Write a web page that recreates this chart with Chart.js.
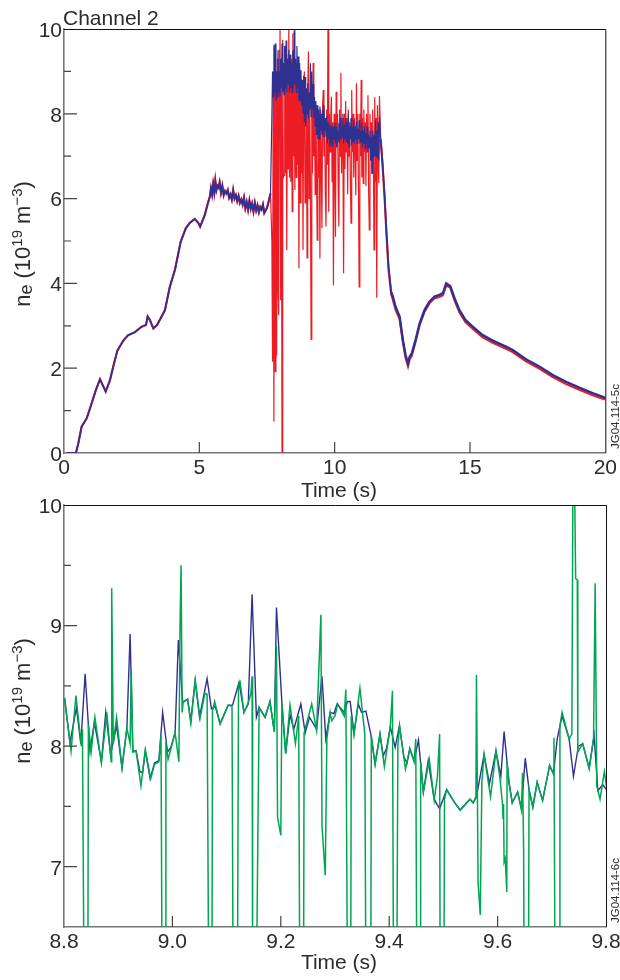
<!DOCTYPE html>
<html>
<head>
<meta charset="utf-8">
<title>Channel 2</title>
<script src="https://cdn.jsdelivr.net/npm/chart.js@4"></script>
<style>
  html, body { margin: 0; background: #fff; overflow: hidden; height: 100%; }
  canvas { position: absolute; left: 0; }
  #top { top: 0; }
  #bottom { top: 480px; }
</style>
</head>
<body>
<canvas id="top" width="620" height="503"></canvas>
<canvas id="bottom" width="640" height="495"></canvas>
<script>
// upper panel: rise up to the event
const earlyTime = [0.10,0.44,0.53,0.65,0.84,0.98,1.18,1.33,1.43,1.54,1.70,1.82,1.97,2.19,2.37,2.62,2.87,3.03,3.09,3.17,3.30,3.44,3.73,3.91,4.10,4.31,4.50,4.65,4.83,4.96,5.03,5.20,5.32,5.39,5.43,5.47,5.51,5.55,5.59,5.63,5.67,5.71,5.75,5.80,5.85,5.90,5.95,6.00,6.05,6.10,6.15,6.20,6.25,6.30,6.35,6.40,6.45,6.50,6.55,6.60,6.65,6.70,6.75,6.80,6.85,6.90,6.95,7.00,7.05,7.10,7.15,7.20,7.25,7.30,7.35,7.40,7.45,7.50,7.55,7.63];
const earlyValues = [0,0,0.23,0.62,0.82,1.09,1.49,1.74,1.60,1.45,1.72,2.04,2.41,2.65,2.78,2.85,2.98,3.02,3.22,3.14,2.94,3.02,3.37,3.92,4.32,4.98,5.30,5.43,5.52,5.43,5.34,5.61,5.90,6.05,6.24,6.10,6.34,6.15,6.42,6.20,6.30,6.26,6.38,6.14,6.30,6.08,6.18,6.12,6.20,6.02,6.10,5.98,6.20,6.00,6.08,5.94,6.06,5.90,5.98,5.86,6.02,5.78,5.92,5.74,5.95,5.76,5.88,5.70,5.90,5.72,5.84,5.68,5.80,5.74,5.86,5.66,5.72,5.78,5.90,6.12];

// upper panel: the noisy part, 7.68 s to 11.66 s
const denseTime = [7.68,7.705,7.73,7.755,7.78,7.805,7.83,7.855,7.88,7.905,
  7.93,7.955,7.98,8.005,8.03,8.055,8.08,8.105,8.13,8.155,
  8.18,8.205,8.23,8.255,8.28,8.305,8.33,8.355,8.38,8.405,
  8.43,8.455,8.48,8.505,8.53,8.555,8.58,8.605,8.63,8.655,
  8.68,8.705,8.73,8.755,8.78,8.805,8.83,8.855,8.88,8.905,
  8.93,8.955,8.98,9.005,9.03,9.055,9.08,9.105,9.13,9.155,
  9.18,9.205,9.23,9.255,9.28,9.305,9.33,9.355,9.38,9.405,
  9.43,9.455,9.48,9.505,9.53,9.555,9.58,9.605,9.63,9.655,
  9.68,9.705,9.73,9.755,9.78,9.805,9.83,9.855,9.88,9.905,
  9.93,9.955,9.98,10.005,10.03,10.055,10.08,10.105,10.13,10.155,
  10.18,10.205,10.23,10.255,10.28,10.305,10.33,10.355,10.38,10.405,
  10.43,10.455,10.48,10.505,10.53,10.555,10.58,10.605,10.63,10.655,
  10.68,10.705,10.73,10.755,10.78,10.805,10.83,10.855,10.88,10.905,
  10.93,10.955,10.98,11.005,11.03,11.055,11.08,11.105,11.13,11.155,
  11.18,11.205,11.23,11.255,11.28,11.305,11.33,11.355,11.38,11.405,
  11.43,11.455,11.48,11.505,11.53,11.555,11.58,11.605,11.63,11.655];
const denseRed = [5.0,2.15,9.0,0.74,9.1,1.92,9.0,2.3,9.3,3.8,
  3.25,9.5,10.5,3.6,9.3,0,9.74,6.5,6.55,9.6,
  6.6,9.4,4.79,9.3,6.7,10.5,6.5,9.2,6.4,9.3,
  5.69,9.9,7.0,9.1,6.2,9.0,6.5,8.9,6.8,8.8,
  4.36,8.7,5.9,8.6,6.6,8.5,4.79,8.4,9.0,5.9,
  6.4,8.3,4.6,8.4,9.47,6.0,8.2,6.3,2.68,8.5,
  6.6,9.2,7.0,8.0,6.1,8.2,6.8,5.02,8.1,6.5,
  8.0,4.59,8.1,6.9,5.3,8.2,8.56,7.0,7.9,6.1,
  5.34,8.1,6.8,10.5,5.69,8.0,7.1,7.9,8.4,6.4,
  7.8,3.95,8.0,6.9,5.1,8.52,7.2,8.0,6.3,5.34,
  8.1,7.0,8.97,6.6,7.9,7.1,4.24,8.0,6.7,8.3,
  7.1,7.9,6.1,8.1,7.0,7.8,6.5,5.42,8.56,7.1,
  8.0,6.5,7.9,7.2,6.08,8.72,6.9,8.0,6.2,3.92,
  8.0,7.0,8.8,6.5,7.9,6.36,8.1,7.1,7.8,6.3,
  8.0,7.1,8.44,6.2,5.26,8.0,6.9,7.8,6.6,8.1,
  7.0,4.79,8.39,6.4,7.9,3.66,8.2,7.0,6.36,8.42];
const denseBlue = [7.9,9.0,8.4,9.62,8.5,9.66,8.3,9.0,8.4,9.5,
  8.5,9.0,8.4,9.3,8.6,9.66,8.5,9.2,8.45,9.6,
  8.6,9.73,8.5,9.3,8.7,9.5,8.5,9.4,8.6,9.2,
  8.5,9.5,8.6,9.97,8.7,9.3,8.5,9.6,8.6,9.35,
  8.3,9.2,8.3,9.03,8.2,8.8,8.0,8.9,7.8,8.87,
  7.7,8.6,8.0,8.72,7.9,8.5,8.1,9.19,7.93,9.0,
  8.1,8.7,7.9,8.4,7.7,8.3,7.5,8.2,7.4,8.1,
  7.4,8.17,7.6,8.0,7.5,8.1,7.46,8.2,7.6,7.9,
  7.46,7.95,7.3,7.8,7.4,7.7,7.25,7.75,7.3,7.7,
  7.22,7.7,7.4,7.78,7.3,7.7,7.22,7.6,7.35,7.78,
  7.3,7.9,7.4,7.7,7.46,8.0,7.3,7.75,7.4,7.9,
  7.35,7.8,7.3,8.0,7.22,7.7,7.4,7.9,7.25,7.7,
  7.35,7.85,7.3,7.7,7.4,7.8,7.3,7.65,7.4,7.85,
  7.3,7.6,7.35,7.77,7.2,7.6,7.3,7.7,7.18,7.55,
  7.3,7.7,7.1,7.5,7.2,7.6,6.9,7.45,6.6,7.6,
  6.95,7.5,6.99,7.85,7.0,7.6,6.95,7.8,6.9,7.93];

// upper panel: decay after the event
const lateTime = [11.70,11.76,11.84,11.91,11.99,12.09,12.15,12.25,12.40,12.52,12.62,12.71,12.77,12.85,12.99,13.14,13.32,13.50,13.69,13.87,14.00,14.12,14.27,14.43,14.61,14.83,15.10,15.47,15.84,16.33,16.58,17.07,17.56,18.06,18.55,19.04,19.53,19.96,20.00];
const lateBlue = [7.4,6.91,6.12,5.26,4.39,3.80,3.69,3.45,3.22,2.67,2.31,2.11,2.27,2.35,2.67,3.06,3.37,3.57,3.69,3.73,3.77,4.00,3.94,3.65,3.37,3.14,2.98,2.78,2.65,2.51,2.43,2.21,2.04,1.84,1.68,1.54,1.41,1.31,1.30];
const lateRed = [7.4,6.89,6.08,5.22,4.34,3.74,3.62,3.38,3.16,2.62,2.25,2.05,2.21,2.30,2.63,3.02,3.33,3.53,3.65,3.68,3.72,3.95,3.90,3.60,3.32,3.09,2.93,2.73,2.60,2.46,2.38,2.16,1.99,1.79,1.63,1.49,1.36,1.27,1.26];

// lower panel: zoom on 8.8 s to 9.8 s
const zoomBlueTime = [8.801,8.811,8.823,8.831,8.839,8.848,8.856,8.869,8.877,8.886,8.897,8.907,8.916,8.922,8.927,8.933,8.940,8.945,8.950,8.959,8.967,8.975,8.982,8.991,8.997,9.005,9.011,9.019,9.028,9.034,9.042,9.050,9.064,9.072,9.079,9.088,9.103,9.111,9.123,9.132,9.140,9.147,9.155,9.160,9.171,9.180,9.188,9.192,9.202,9.209,9.217,9.224,9.237,9.245,9.253,9.266,9.276,9.283,9.291,9.298,9.304,9.317,9.323,9.328,9.335,9.343,9.349,9.357,9.366,9.374,9.383,9.389,9.395,9.402,9.411,9.419,9.427,9.433,9.438,9.446,9.454,9.463,9.472,9.483,9.493,9.506,9.521,9.531,9.549,9.555,9.561,9.575,9.585,9.597,9.606,9.612,9.621,9.627,9.637,9.644,9.651,9.658,9.665,9.673,9.683,9.696,9.703,9.710,9.719,9.732,9.740,9.749,9.757,9.769,9.778,9.785,9.794,9.801];
const zoomBlue = [8.40,8.03,8.32,8.02,8.60,7.96,8.20,7.87,8.28,7.93,8.17,7.82,8.15,8.93,7.96,7.96,7.79,7.78,7.96,7.73,7.86,7.88,8.28,7.95,7.99,8.11,8.88,8.36,8.39,8.21,8.54,8.24,8.56,8.31,8.33,8.19,8.34,8.34,8.53,8.28,8.35,9.26,8.24,8.32,8.24,8.37,8.12,9.15,8.36,7.94,8.26,8.14,8.35,8.11,8.24,8.14,8.58,8.06,8.28,8.27,8.35,8.28,8.37,8.37,8.11,8.35,8.28,8.29,8.10,7.85,8.10,7.92,7.98,8.16,7.99,8.17,7.91,7.86,7.98,7.88,8.05,7.62,7.88,7.56,7.48,7.64,7.53,7.47,7.56,7.53,7.58,7.93,7.69,7.96,7.75,8.12,7.70,7.53,7.62,7.48,7.90,7.64,7.50,7.70,7.55,7.84,7.77,8.06,8.25,8.06,7.75,8.00,8.02,7.82,8.09,7.63,7.68,7.64];
const zoomGreenTime = [8.801,8.813,8.822,8.832,8.834,8.837,8.844,8.845,8.850,8.857,8.869,8.879,8.887,8.888,8.891,8.897,8.907,8.916,8.922,8.924,8.927,8.933,8.942,8.950,8.960,8.967,8.975,8.979,8.981,8.987,8.988,8.992,9.005,9.012,9.014,9.016,9.018,9.020,9.028,9.034,9.042,9.051,9.060,9.064,9.067,9.073,9.074,9.078,9.088,9.103,9.110,9.112,9.120,9.122,9.125,9.132,9.140,9.145,9.147,9.148,9.155,9.160,9.171,9.180,9.188,9.192,9.194,9.200,9.202,9.209,9.217,9.227,9.233,9.235,9.242,9.243,9.257,9.266,9.274,9.276,9.282,9.285,9.291,9.294,9.300,9.305,9.317,9.320,9.323,9.329,9.330,9.335,9.346,9.355,9.357,9.366,9.367,9.374,9.383,9.391,9.402,9.406,9.408,9.414,9.416,9.419,9.430,9.438,9.446,9.449,9.451,9.457,9.458,9.463,9.474,9.483,9.489,9.493,9.494,9.501,9.502,9.506,9.521,9.531,9.549,9.555,9.560,9.561,9.564,9.568,9.571,9.575,9.587,9.597,9.604,9.609,9.610,9.611,9.612,9.614,9.617,9.6175,9.621,9.627,9.637,9.644,9.646,9.648,9.649,9.657,9.658,9.665,9.673,9.683,9.696,9.703,9.704,9.706,9.714,9.715,9.719,9.732,9.737,9.739,9.742,9.744,9.747,9.748,9.757,9.769,9.777,9.780,9.783,9.789,9.797,9.803];
const zoomGreen = [8.40,7.96,8.42,8.00,8.14,6.0,6.0,8.18,7.95,8.24,7.86,8.28,7.87,9.31,8.02,8.24,7.82,8.15,8.02,8.64,7.95,7.96,7.67,7.97,7.73,7.85,7.87,8.09,6.0,6.0,8.03,7.89,8.11,7.87,8.97,9.50,8.28,8.37,8.39,8.19,8.55,8.23,8.44,8.43,6.0,6.0,8.29,8.37,8.18,8.34,8.33,6.0,6.0,8.50,8.53,8.28,8.36,8.44,8.58,6.0,6.0,8.32,8.24,8.37,8.12,8.83,7.41,7.26,8.36,7.94,8.34,8.02,8.25,6.0,6.0,8.11,8.35,8.13,9.09,7.34,6.93,8.06,8.28,8.21,8.25,8.35,8.25,8.47,6.0,6.0,8.25,8.09,8.48,8.10,6.0,6.0,8.09,7.85,8.10,7.83,8.16,8.46,6.0,6.0,8.00,8.17,7.81,7.98,7.87,8.06,6.0,6.0,7.87,7.62,7.89,7.55,7.75,8.10,6.0,6.0,7.56,7.64,7.53,7.47,7.56,7.53,7.58,8.59,6.87,6.60,7.70,7.93,7.58,7.96,7.75,7.52,7.40,7.52,7.04,7.07,6.79,7.87,7.70,7.53,7.62,7.47,7.78,7.15,6.0,6.0,7.64,7.49,7.70,7.55,7.84,7.77,8.07,6.0,6.0,8.17,8.28,8.06,8.10,10.2,10.2,9.39,9.38,7.95,8.02,7.81,8.06,9.35,7.67,7.56,7.79,7.60];

// axis ticks
const topXTicks = [0, 5, 10, 15, 20];
const topYTicks = [0, 2, 4, 6, 8, 10];
const topYMinor = [1, 3, 5, 7, 9];
const zoomXTicks = [8.8, 9.0, 9.2, 9.4, 9.6, 9.8];
const zoomYTicks = [7, 8, 9, 10];
const zoomYMinor = [7.5, 8.5, 9.5];

const FONT = '"Liberation Sans", Arial, sans-serif';
const INK = '#2b2b2b';
const RED = '#ed1c24';
const BLUE = '#2e3192';
const GREEN = '#00a651';

function pts(xs, ys) {
  return xs.map((x, i) => ({ x: x, y: ys[i] }));
}

// inward ticks, the black top/right frame, and the texts canvas scales can't do
function panelPlugin(cfg) {
  return {
    id: 'panel',
    afterDraw(chart) {
      const c = chart.ctx, a = chart.chartArea;
      const xs = chart.scales.x, ys = chart.scales.y;
      c.save();
      c.strokeStyle = '#111';
      c.lineWidth = 1;
      c.beginPath();
      c.moveTo(a.left, a.top + 0.5); c.lineTo(a.right + 0.5, a.top + 0.5);
      c.lineTo(a.right + 0.5, a.bottom);
      c.stroke();

      c.strokeStyle = '#444';
      c.lineWidth = 1.2;
      c.beginPath();
      cfg.xTicks.slice(1, -1).forEach(v => {
        const p = xs.getPixelForValue(v);
        c.moveTo(p, a.bottom); c.lineTo(p, a.bottom - 11);
      });
      cfg.yTicks.forEach(v => {
        if (v === ys.max || v === ys.min) return;
        const p = ys.getPixelForValue(v);
        c.moveTo(a.left, p); c.lineTo(a.left + 13, p);
      });
      cfg.yMinor.forEach(v => {
        const p = ys.getPixelForValue(v);
        c.moveTo(a.left, p); c.lineTo(a.left + 7, p);
      });
      c.stroke();

      // x title sits a little right of the axis centre in the original
      c.fillStyle = INK;
      c.font = '21px ' + FONT;
      c.textAlign = 'center';
      c.fillText('Time (s)', 339, cfg.xTitleY);
      c.textAlign = 'left';

      // y title with subscript and superscripts
      c.translate(cfg.titleX, cfg.titleY);
      c.rotate(-Math.PI / 2);
      c.textBaseline = 'alphabetic';
      const runs = [['n', 22, 0], ['e', 18, 2], [' (10', 22, 0], ['19', 15, -8], [' m', 22, 0], ['\u22123', 15, -8], [')', 22, 0]];
      let w = 0;
      runs.forEach(r => { c.font = r[1] + 'px ' + FONT; w += c.measureText(r[0]).width; });
      let pos = -w / 2;
      runs.forEach(r => {
        c.font = r[1] + 'px ' + FONT;
        c.fillText(r[0], pos, r[2]);
        pos += c.measureText(r[0]).width;
      });
      c.restore();

      // job code along the right edge
      c.save();
      c.translate(620 - 1, a.bottom - 4);
      c.rotate(-Math.PI / 2);
      c.font = '11.5px ' + FONT;
      c.fillStyle = INK;
      c.fillText(cfg.code, 0, 0);
      c.restore();

      if (cfg.heading) {
        c.save();
        c.font = '21px ' + FONT;
        c.fillStyle = INK;
        c.fillText(cfg.heading, 63, 25);
        c.restore();
      }
    }
  };
}

function axis(min, max, ticks, fmt, pad, labelOffset, extra) {
  return Object.assign({
    type: 'linear',
    min: min,
    max: max,
    afterBuildTicks: s => { s.ticks = ticks.map(v => ({ value: v })); },
    grid: { drawOnChartArea: false, drawTicks: false },
    border: { color: '#777', width: 1.6 },
    ticks: {
      color: INK,
      font: { family: FONT, size: 21 },
      padding: pad,
      labelOffset: labelOffset,
      autoSkip: false,
      maxRotation: 0,
      callback: fmt
    }
  }, extra);
}

new Chart(document.querySelector('#top').getContext('2d'), {
  type: 'line',
  data: {
    datasets: [
      {
        order: 2,
        data: pts(earlyTime.concat(denseTime, lateTime), earlyValues.concat(denseRed, lateRed)),
        borderColor: RED, borderWidth: 1.5, pointRadius: 0, tension: 0,
        segment: { borderWidth: s => (s.p0.parsed.x > 7.6 && s.p0.parsed.x < 11.7 ? 1.2 : 2.2) }
      },
      {
        order: 1,
        data: pts(earlyTime.concat(denseTime, lateTime), earlyValues.concat(denseBlue, lateBlue)),
        borderColor: BLUE, borderWidth: 1.5, pointRadius: 0, tension: 0,
        segment: { borderWidth: s => (s.p0.parsed.x > 7.6 && s.p0.parsed.x < 11.7 ? 1.2 : (s.p0.parsed.x > 12 ? 2.4 : 1.7)) }
      }
    ]
  },
  options: {
    responsive: false,
    animation: false,
    devicePixelRatio: 1,
    layout: { padding: { top: 29, right: 14, left: 0, bottom: 0 } },
    plugins: { legend: { display: false }, tooltip: { enabled: false } },
    scales: {
      x: axis(0, 20, topXTicks, v => String(v), 3, 0, { afterFit: s => { s.height = 50; } }),
      y: axis(0, 10, topYTicks, v => String(v), 2, 2, { afterFit: s => { s.width = 64; } })
    }
  },
  plugins: [panelPlugin({ xTicks: topXTicks, yTicks: topYTicks, yMinor: topYMinor, titleX: 30, titleY: 244, xTitleY: 497, code: 'JG04.114-5c', heading: 'Channel 2' })]
});

new Chart(document.querySelector('#bottom').getContext('2d'), {
  type: 'line',
  data: {
    datasets: [
      {
        order: 2,
        data: pts(zoomBlueTime, zoomBlue),
        borderColor: BLUE, borderWidth: 1.4, pointRadius: 0, tension: 0
      },
      {
        order: 1,
        data: pts(zoomGreenTime, zoomGreen),
        borderColor: GREEN, borderWidth: 1.5, pointRadius: 0, tension: 0
      }
    ]
  },
  options: {
    responsive: false,
    animation: false,
    devicePixelRatio: 1,
    // canvas is 20px wider than the page so the 9.8 label doesn't squeeze the plot
    layout: { padding: { top: 25, right: 34, left: 0, bottom: 0 } },
    plugins: { legend: { display: false }, tooltip: { enabled: false } },
    scales: {
      x: axis(8.8, 9.8, zoomXTicks, v => v.toFixed(1), 3, 0, { afterFit: s => { s.height = 48; } }),
      y: axis(6.5, 10, zoomYTicks, v => String(v), 2, 2, { afterFit: s => { s.width = 64; } })
    }
  },
  plugins: [panelPlugin({ xTicks: zoomXTicks, yTicks: zoomYTicks, yMinor: zoomYMinor, titleX: 30, titleY: 221, xTitleY: 489, code: 'JG04.114-6c' })]
});
</script>
</body>
</html>
